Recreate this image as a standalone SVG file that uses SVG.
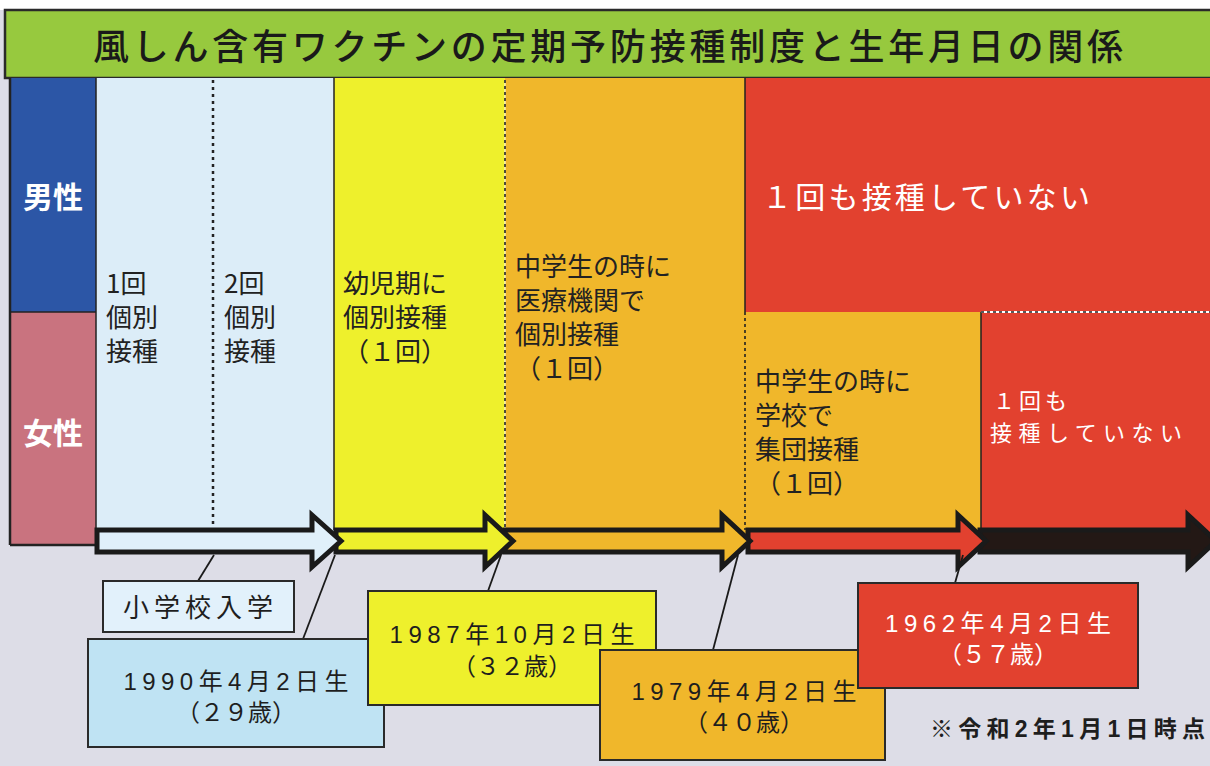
<svg xmlns="http://www.w3.org/2000/svg" width="1210" height="766" viewBox="0 0 1210 766">
<style>
.jp{font-family:"Noto Sans CJK JP","Noto Sans CJK SC",sans-serif;}
.mix{font-family:"Liberation Sans","Noto Sans CJK JP",sans-serif;}
.cell{font-size:26px;fill:#222;}
.wt{fill:#fff;}
.box{stroke:#2a2a2a;stroke-width:2;}
.arr{stroke:#1a1a1a;stroke-width:5;stroke-linejoin:miter;}
.con{stroke:#1a1a1a;stroke-width:1.8;fill:none;}
.dash{stroke:#222;stroke-width:1.6;stroke-dasharray:3 3;}
.lbl{font-size:24px;fill:#1e1e1e;text-anchor:middle;}
</style>
<rect x="0" y="0" width="1210" height="766" fill="#dddde7"/>
<rect x="0" y="0" width="1210" height="10" fill="#ffffff"/>
<g id="title">
<rect x="5" y="10" width="1210" height="68" fill="#97c93e" stroke="#2a2a2a" stroke-width="2.5"/>
<text x="93" y="60" class="jp" font-size="36" font-weight="500" fill="#1a1a1a" textLength="1030" lengthAdjust="spacing">風しん含有ワクチンの定期予防接種制度と生年月日の関係</text>
</g>
<g id="grid">
<rect x="10" y="78" width="86" height="234" fill="#2c56a6"/>
<rect x="10" y="312" width="86" height="233" fill="#c9737f"/>
<rect x="96" y="78" width="238" height="467" fill="#dcedf8"/>
<rect x="334" y="78" width="171" height="467" fill="#eef02c"/>
<rect x="505" y="78" width="240" height="467" fill="#f0b72b"/>
<rect x="745" y="78" width="465" height="234" fill="#e2412f"/>
<rect x="745" y="312" width="236" height="233" fill="#f0b72b"/>
<rect x="981" y="312" width="229" height="233" fill="#e2412f"/>
<line x1="10" y1="78" x2="10" y2="545" stroke="#222" stroke-width="2.5"/>
<line x1="10" y1="545" x2="97" y2="545" stroke="#222" stroke-width="2.5"/>
<line x1="10" y1="312" x2="96" y2="312" stroke="#222" stroke-width="1.5"/>
<line x1="96" y1="78" x2="96" y2="545" stroke="#222" stroke-width="1.5"/>
<line x1="334" y1="78" x2="334" y2="530" stroke="#222" stroke-width="1.5"/>
<line x1="745" y1="78" x2="745" y2="312" stroke="#222" stroke-width="1.5"/>
<line x1="745" y1="312" x2="745" y2="530" class="dash" stroke-width="1"/>
<line x1="981" y1="312" x2="981" y2="530" stroke="#222" stroke-width="1.5"/>
<line x1="981" y1="312" x2="1210" y2="312" stroke="#fff" stroke-width="2"/>
<line x1="981" y1="312" x2="1210" y2="312" class="dash" stroke-width="2" stroke-dasharray="4 3"/>
<line x1="213" y1="80" x2="213" y2="530" stroke="#222" stroke-width="2.5" stroke-dasharray="3 4"/>
<line x1="505" y1="80" x2="505" y2="530" stroke="#fff" stroke-width="1"/>
<line x1="505" y1="80" x2="505" y2="530" class="dash" stroke-width="1"/>
</g>
<g id="sex-labels" class="jp" font-size="30" font-weight="bold" fill="#fff">
<text x="23" y="208">男性</text>
<text x="23" y="444">女性</text>
</g>
<g id="cell-1" class="jp cell">
<text x="106" y="293">1回</text>
<text x="106" y="327">個別</text>
<text x="106" y="361">接種</text>
</g>
<g id="cell-2" class="jp cell">
<text x="224" y="293">2回</text>
<text x="224" y="327">個別</text>
<text x="224" y="361">接種</text>
</g>
<g id="cell-3" class="jp cell">
<text x="343" y="293">幼児期に</text>
<text x="343" y="327">個別接種</text>
<text x="343" y="361">（１回）</text>
</g>
<g id="cell-4" class="jp cell">
<text x="515" y="276">中学生の時に</text>
<text x="515" y="310">医療機関で</text>
<text x="515" y="344">個別接種</text>
<text x="515" y="378">（１回）</text>
</g>
<g id="cell-5" class="jp">
<text x="762" y="208" font-size="30" class="wt" textLength="328" lengthAdjust="spacing">１回も接種していない</text>
</g>
<g id="cell-6" class="jp cell">
<text x="755" y="391">中学生の時に</text>
<text x="755" y="425">学校で</text>
<text x="755" y="459">集団接種</text>
<text x="755" y="493">（１回）</text>
</g>
<g id="cell-7" class="jp wt" font-size="22">
<text x="993" y="409" textLength="74" lengthAdjust="spacing">１回も</text>
<text x="990" y="441" textLength="192" lengthAdjust="spacing">接種していない</text>
</g>
<g id="arrows">
<polygon class="arr" fill="#231815" points="980,530 1188,530 1188,515 1216,541 1188,567 1188,552 980,552"/>
<polygon class="arr" fill="#e2412f" points="748,530 958,530 958,515 986,541 958,567 958,552 748,552"/>
<polygon class="arr" fill="#f0b72b" points="505,530 722,530 722,515 750,541 722,567 722,552 505,552"/>
<polygon class="arr" fill="#eef02c" points="336,530 485,530 485,515 513,541 485,567 485,552 336,552"/>
<polygon class="arr" fill="#e0f0fa" points="97,530 312,530 312,515 341,541 312,567 312,552 97,552"/>
</g>
<g id="connectors">
<line class="con" x1="214" y1="555" x2="198" y2="581"/>
<line class="con" x1="335" y1="555" x2="303" y2="639"/>
<line class="con" x1="501" y1="555" x2="488" y2="591"/>
<line class="con" x1="738" y1="555" x2="713" y2="650"/>
<line class="con" x1="963" y1="555" x2="955" y2="583"/>
</g>
<g id="box-school">
<rect class="box" x="103" y="581" width="191" height="51" fill="#e2f1fb"/>
<text x="123" y="617" class="jp" font-size="26" fill="#1e1e1e" textLength="150" lengthAdjust="spacing">小学校入学</text>
</g>
<g id="box-1990">
<rect class="box" x="88" y="639" width="296" height="108" fill="#bfe3f3"/>
<text x="236" y="690" class="mix lbl" textLength="225" lengthAdjust="spacing">1990年4月2日生</text>
<text x="236" y="721" class="jp lbl">（２９歳）</text>
</g>
<g id="box-1987">
<rect class="box" x="368" y="591" width="288" height="114" fill="#eef02c"/>
<text x="512" y="643" class="mix lbl" textLength="245" lengthAdjust="spacing">1987年10月2日生</text>
<text x="512" y="675" class="jp lbl">（３２歳）</text>
</g>
<g id="box-1979">
<rect class="box" x="600" y="650" width="285" height="110" fill="#f0b72b"/>
<text x="744" y="700" class="mix lbl" textLength="225" lengthAdjust="spacing">1979年4月2日生</text>
<text x="744" y="731" class="jp lbl">（４０歳）</text>
</g>
<g id="box-1962">
<rect class="box" x="858" y="583" width="280" height="105" fill="#e2412f"/>
<text x="998" y="632" class="mix lbl" style="fill:#fff" textLength="226" lengthAdjust="spacing">1962年4月2日生</text>
<text x="998" y="663" class="jp lbl" style="fill:#fff">（５７歳）</text>
</g>
<g id="note">
<text x="930" y="737" class="mix" font-size="23" font-weight="bold" fill="#1e1e1e" textLength="275" lengthAdjust="spacing">※令和2年1月1日時点</text>
</g>
</svg>
